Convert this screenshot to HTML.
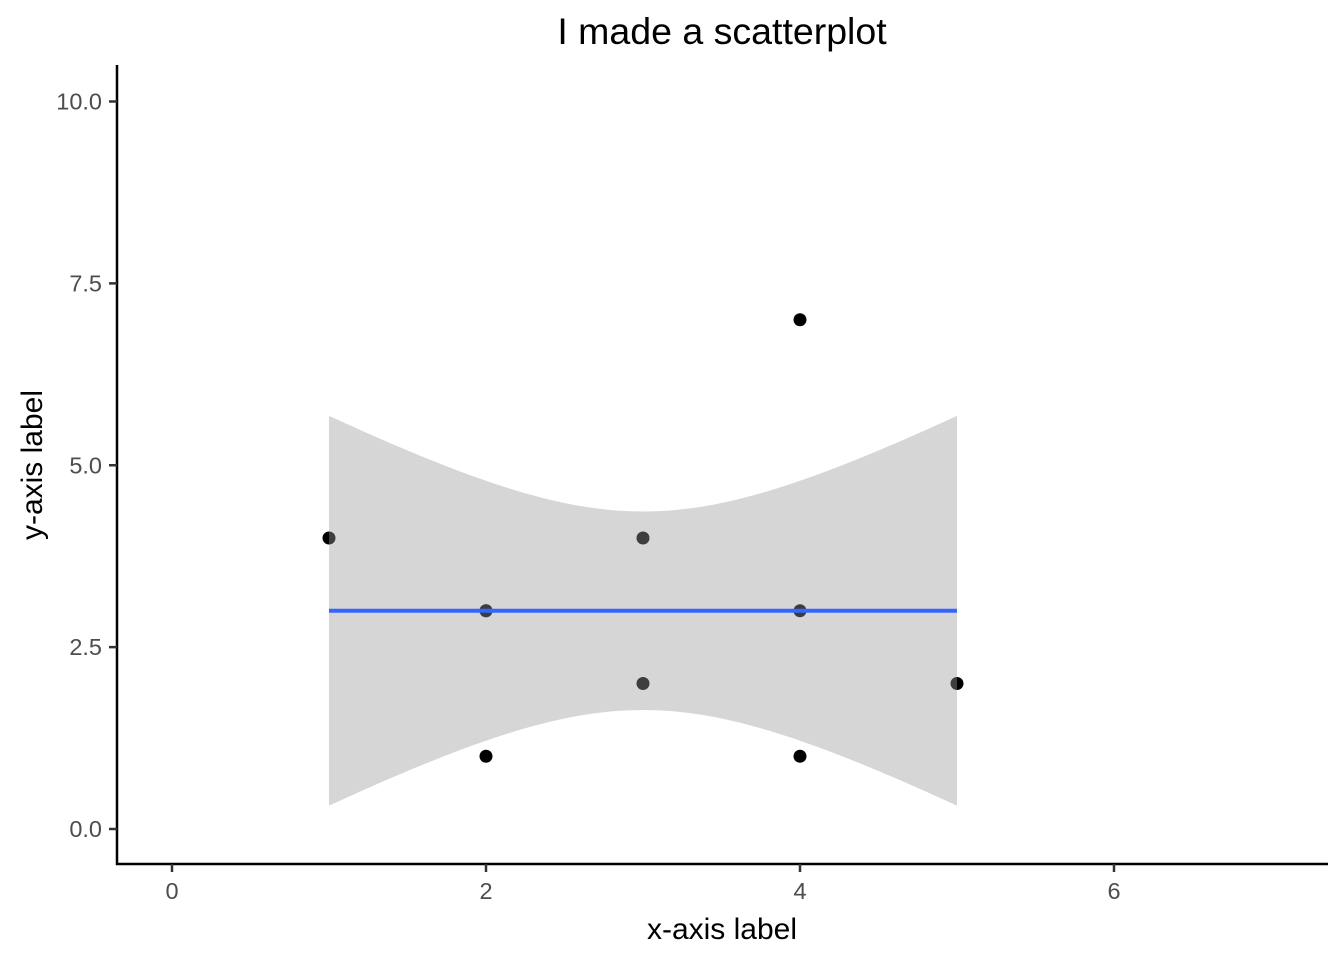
<!DOCTYPE html>
<html><head><meta charset="utf-8"><style>
body{margin:0;background:#fff;}
svg text{font-family:"Liberation Sans",Arial,sans-serif;}
</style></head><body>
<svg id="chart" width="1344" height="960">
<text x="722" y="44" font-size="37.5" text-anchor="middle" fill="#000">I made a scatterplot</text>
<text x="722" y="939" font-size="30" text-anchor="middle" fill="#000">x-axis label</text>
<text transform="translate(42,465) rotate(-90)" font-size="30" text-anchor="middle" fill="#000">y-axis label</text>
<g id="pts"></g><g id="band"></g><g id="fit"></g><g id="axes"></g>
</svg>
<script>
const xVals=[1,2,2,2,3,3,4,4,4,5];
const yVals=[4,3,3,1,4,2,7,3,1,2];
const xTicks=[0,2,4,6];
const yTicks=[0,2.5,5,7.5,10];
const yTickLabels=["0.0","2.5","5.0","7.5","10.0"];
const tCrit=2.306;
const NS="http://www.w3.org/2000/svg";
const X=v=>172+v*157;
const Y=v=>829-v*72.75;
function mk(tag,attrs,parent){const e=document.createElementNS(NS,tag);for(const k in attrs)e.setAttribute(k,attrs[k]);parent.appendChild(e);return e;}
const n=xVals.length;
const xb=xVals.reduce((a,b)=>a+b)/n, yb=yVals.reduce((a,b)=>a+b)/n;
let sxx=0,sxy=0;for(let i=0;i<n;i++){sxx+=(xVals[i]-xb)**2;sxy+=(xVals[i]-xb)*(yVals[i]-yb);}
const b=sxy/sxx,a=yb-b*xb;
let sse=0;for(let i=0;i<n;i++)sse+=(yVals[i]-a-b*xVals[i])**2;
const s=Math.sqrt(sse/(n-2));
const xmin=Math.min(...xVals),xmax=Math.max(...xVals);
for(let i=0;i<n;i++){
 const c=mk('circle',{cx:X(xVals[i]),cy:Y(yVals[i]),r:6.5,fill:'#000'},document.getElementById('pts'));
 
 
}
let up=[],lo=[];
for(let k=0;k<=80;k++){const x=xmin+(xmax-xmin)*k/80;const f=a+b*x;const se=s*Math.sqrt(1/n+(x-xb)**2/sxx);
up.push(X(x)+','+Y(f+tCrit*se));lo.unshift(X(x)+','+Y(f-tCrit*se));}
const band=mk('polygon',{points:up.concat(lo).join(' '),fill:'#999999','fill-opacity':0.4},document.getElementById('band'));


const ln=mk('line',{x1:X(xmin),y1:Y(a+b*xmin),x2:X(xmax),y2:Y(a+b*xmax),stroke:'#3366FF','stroke-width':4},document.getElementById('fit'));


const ax=document.getElementById('axes');
const yl=mk('line',{x1:117,y1:65,x2:117,y2:865,stroke:'#000','stroke-width':2.5},ax);


const xl=mk('line',{x1:116,y1:864,x2:1328,y2:864,stroke:'#000','stroke-width':2.5},ax);


yTicks.forEach((v,i)=>{
 const t=mk('line',{x1:109,y1:Y(v),x2:117,y2:Y(v),stroke:'#333','stroke-width':2.5},ax);
 
 
 const tx=mk('text',{x:102,y:Y(v)+8,'font-size':23.5,'text-anchor':'end',fill:'#4d4d4d'},ax);
 tx.textContent=yTickLabels[i];
 
 
});
xTicks.forEach(v=>{
 const t=mk('line',{x1:X(v),y1:864,x2:X(v),y2:872,stroke:'#333','stroke-width':2.5},ax);
 
 
 const tx=mk('text',{x:X(v),y:899,'font-size':23.5,'text-anchor':'middle',fill:'#4d4d4d'},ax);
 tx.textContent=String(v);
 
 
});
</script>
</body></html>
